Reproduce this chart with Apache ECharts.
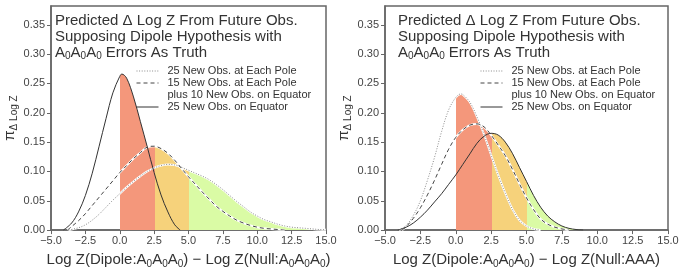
<!DOCTYPE html>
<html>
<head>
<meta charset="utf-8">
<script src="https://cdn.jsdelivr.net/npm/echarts@6/dist/echarts.min.js"></script>
<style>
html,body{margin:0;padding:0;background:#fff;}
#c{width:685px;height:274px;}
</style>
</head>
<body>
<div id="c"></div>
<script>
// ---- tick labels ----
const xTicks = [-5, -2.5, 0, 2.5, 5, 7.5, 10, 12.5, 15];
const yTicks = [0, 0.05, 0.10, 0.15, 0.20, 0.25, 0.30, 0.35];

// ---- shaded bands (x ranges) ----
const bandEdges = [0.05, 2.55, 5.05, 15];

// ---- legend labels ----
const legendNames = ['25 New Obs. at Each Pole', '15 New Obs. at Each Pole', 'plus 10 New Obs. on Equator', '25 New Obs. on Equator'];

// ---- Left panel (Null: A0A0A0) ----
const L_dotX = [-3.7,-3.0,-2.5,-2.0,-1.5,-1.0,-0.5,0.0,0.5,1.0,1.5,2.0,2.5,3.0,3.5,4.0,4.5,5.0,5.5,6.0,6.5,7.0,7.5,8.0,8.5,9.0,9.5,10.0,10.5,11.0,11.5,12.0,12.5,13.0,13.5,14.0,14.5,15.0];
const L_dotY = [0,0.004,0.009,0.017,0.027,0.039,0.051,0.062,0.073,0.083,0.092,0.100,0.106,0.110,0.112,0.111,0.107,0.102,0.097,0.092,0.086,0.078,0.069,0.059,0.049,0.040,0.031,0.024,0.018,0.014,0.010,0.007,0.005,0.004,0.003,0.002,0.001,0.0005];

const L_dashX = [-3.8,-3.5,-3.0,-2.5,-2.0,-1.5,-1.0,-0.5,0.0,0.5,1.0,1.5,2.0,2.5,3.0,3.5,4.0,4.5,5.0,5.5,6.0,6.5,7.0,7.5,8.0,8.5,9.0,9.5,10.0,10.5,11.0,11.5,12.0];
const L_dashY = [0,0.006,0.016,0.028,0.042,0.056,0.070,0.084,0.098,0.110,0.122,0.132,0.1415,0.143,0.139,0.131,0.119,0.105,0.091,0.078,0.065,0.053,0.041,0.032,0.024,0.017,0.012,0.008,0.005,0.003,0.002,0.001,0];

const L_solX = [-4.1,-3.5,-3.0,-2.5,-2.0,-1.5,-1.0,-0.5,0.0,0.15,0.5,1.0,1.5,2.0,2.5,3.0,3.5,4.0,4.4];
const L_solY = [0,0.012,0.031,0.059,0.097,0.143,0.190,0.234,0.262,0.266,0.259,0.227,0.185,0.142,0.098,0.060,0.031,0.009,0];

// ---- Right panel (Null: AAA) ----
const R_dotX = [-4.0,-3.5,-3.0,-2.5,-2.0,-1.5,-1.0,-0.5,0.0,0.35,0.5,1.0,1.5,2.0,2.5,3.0,3.5,4.0,4.5,5.0,5.5,6.0];
const R_dotY = [0,0.008,0.025,0.050,0.085,0.124,0.168,0.205,0.226,0.232,0.231,0.218,0.193,0.163,0.128,0.094,0.063,0.036,0.017,0.007,0.002,0];

const R_dashX = [-3.8,-3.5,-3.0,-2.5,-2.0,-1.5,-1.0,-0.5,0.0,0.5,1.0,1.5,2.0,2.5,3.0,3.5,4.0,4.5,5.0,5.5,6.0,6.5,7.0,7.5,8.0];
const R_dashY = [0,0.006,0.020,0.038,0.060,0.085,0.112,0.138,0.158,0.171,0.179,0.181,0.176,0.162,0.145,0.127,0.104,0.079,0.055,0.035,0.019,0.010,0.005,0.002,0];

const R_solX = [-4.1,-3.5,-3.0,-2.5,-2.0,-1.5,-1.0,-0.5,0.0,0.5,1.0,1.5,2.0,2.5,3.0,3.5,4.0,4.5,5.0,5.5,6.0,6.5,7.0,7.5,8.0,8.5,9.0];
const R_solY = [0,0.005,0.012,0.022,0.034,0.048,0.062,0.078,0.094,0.112,0.130,0.148,0.160,0.165,0.162,0.150,0.131,0.107,0.083,0.059,0.039,0.024,0.014,0.007,0.003,0.001,0];

const panels = [
  {dot:[L_dotX,L_dotY], dash:[L_dashX,L_dashY], sol:[L_solX,L_solY],
   xname:'Log Z(Dipole:A{s|0}A{s|0}A{s|0}) \u2212 Log Z(Null:A{s|0}A{s|0}A{s|0})'},
  {dot:[R_dotX,R_dotY], dash:[R_dashX,R_dashY], sol:[R_solX,R_solY],
   xname:'Log Z(Dipole:A{s|0}A{s|0}A{s|0}) \u2212 Log Z(Null:AAA)'}
];

const FONT = 'Liberation Sans, Arial, sans-serif';
const TXT = '#333';
const AX = '#666';
const RED = '#F4977B', ORANGE = '#F6D27B', GREEN = '#DAFBA5';

function pairs(xs, ys){ return xs.map((x,i)=>[x, ys[i]]); }

const grids = [
  {left:43, right:359, top:6, bottom:42},
  {left:385, right:17, top:6, bottom:42}
];

const series = [];
const areaIdx = [];
const SMOOTH = 0.35;

panels.forEach((p, g) => {
  const curves = [p.dot, p.dash, p.sol];
  curves.forEach(c => {
    areaIdx.push(series.length);
    series.push({type:'line', xAxisIndex:g, yAxisIndex:g, data:pairs(c[0],c[1]),
      smooth:SMOOTH, symbol:'none', showSymbol:false, silent:true, z:1,
      lineStyle:{width:0, opacity:0}, areaStyle:{opacity:1}});
  });
  [p.dot, p.dash].forEach(c => {
    series.push({type:'line', xAxisIndex:g, yAxisIndex:g, data:pairs(c[0],c[1]),
      smooth:SMOOTH, symbol:'none', silent:true, z:2,
      lineStyle:{color:'#fff', width:2}});
  });
  series.push({name:legendNames[0], type:'line', xAxisIndex:g, yAxisIndex:g, data:pairs(p.dot[0],p.dot[1]),
    smooth:SMOOTH, symbol:'none', z:3, color:'#8a8a8a',
    lineStyle:{color:'#8a8a8a', width:1, type:[1,1.6]}});
  series.push({name:legendNames[1], type:'line', xAxisIndex:g, yAxisIndex:g, data:pairs(p.dash[0],p.dash[1]),
    smooth:SMOOTH, symbol:'none', z:3, color:'#444',
    lineStyle:{color:'#444', width:1, type:[4,3]}});
  series.push({name:legendNames[3], type:'line', xAxisIndex:g, yAxisIndex:g, data:pairs(p.sol[0],p.sol[1]),
    smooth:SMOOTH, symbol:'none', z:3, color:'#333',
    lineStyle:{color:'#333', width:1}});
});
series.push({name:legendNames[2], type:'line', xAxisIndex:0, yAxisIndex:0, data:[], symbol:'none',
  lineStyle:{opacity:0}});

function xAxisFor(g){
  return {type:'value', gridIndex:g, min:-5, max:15, interval:2.5,
    name:panels[g].xname, nameLocation:'middle', nameGap:17,
    nameTextStyle:{fontSize:15, color:TXT, fontFamily:FONT, lineHeight:18,
      rich:{s:{fontSize:10, lineHeight:6, verticalAlign:'bottom', color:TXT, fontFamily:FONT}}},
    axisLine:{show:true, onZero:false, lineStyle:{color:AX, width:1.5}},
    axisTick:{show:true, inside:false, length:4, lineStyle:{color:AX, width:1}, customValues:xTicks},
    axisLabel:{fontSize:11, color:'#444', fontFamily:FONT, margin:5, customValues:xTicks,
      formatter:v=>(v<0?'\u2212':'')+Math.abs(v).toFixed(1)},
    splitLine:{show:false}};
}
function yAxisFor(g){
  return {type:'value', gridIndex:g, min:0, max:0.382,
    name:'\u03C0{s|\u0394 Log Z}', nameLocation:'middle', nameGap:32,
    nameTextStyle:{fontSize:15, color:TXT, fontFamily:FONT, lineHeight:18,
      rich:{s:{fontSize:10, lineHeight:6, verticalAlign:'bottom', color:TXT, fontFamily:FONT}}},
    axisLine:{show:true, onZero:false, lineStyle:{color:AX, width:1.5}},
    axisTick:{show:true, inside:false, length:4, lineStyle:{color:AX, width:1}, customValues:yTicks},
    axisLabel:{fontSize:11, color:'#444', fontFamily:FONT, margin:6, customValues:yTicks,
      formatter:v=>v.toFixed(2)},
    splitLine:{show:false}};
}

const titleText = 'Predicted \u0394 Log Z From Future Obs.\nSupposing Dipole Hypothesis with\nA{s|0}A{s|0}A{s|0} Errors As Truth';
function titleFor(left){
  return {text:titleText, left:left, top:13, padding:0,
    textStyle:{fontSize:15, fontWeight:'normal', color:TXT, fontFamily:FONT, lineHeight:16,
      rich:{s:{fontSize:10, lineHeight:6, verticalAlign:'bottom', color:TXT, fontFamily:FONT}}}};
}
function legendFor(left){
  return {orient:'vertical', left:left, top:65, padding:0, itemGap:0,
    itemWidth:22, itemHeight:10, selectedMode:false,
    itemStyle:{opacity:0},
    lineStyle:{width:1},
    textStyle:{fontSize:11, lineHeight:12, color:TXT, fontFamily:FONT, padding:[0,0,0,4]},
    data:[{name:legendNames[0]},{name:legendNames[1]},{name:legendNames[2], icon:'none'},{name:legendNames[3]}]};
}

const chart = echarts.init(document.getElementById('c'), null, {renderer:'canvas'});
chart.setOption({
  animation:false,
  backgroundColor:'#fff',
  title:[titleFor(55), titleFor(398)],
  legend:[legendFor(136), legendFor(480)],
  grid:grids.map(gr=>Object.assign({show:true, borderColor:AX, borderWidth:1.5, backgroundColor:'transparent'}, gr)),
  xAxis:[xAxisFor(0), xAxisFor(1)],
  yAxis:[yAxisFor(0), yAxisFor(1)],
  visualMap:{type:'piecewise', show:false, dimension:0, seriesIndex:areaIdx,
    pieces:[
      {gte:bandEdges[0], lt:bandEdges[1], color:RED},
      {gte:bandEdges[1], lt:bandEdges[2], color:ORANGE},
      {gte:bandEdges[2], lte:bandEdges[3], color:GREEN}
    ],
    outOfRange:{color:'rgba(255,255,255,0)'}},
  series:series
});
</script>
</body>
</html>
